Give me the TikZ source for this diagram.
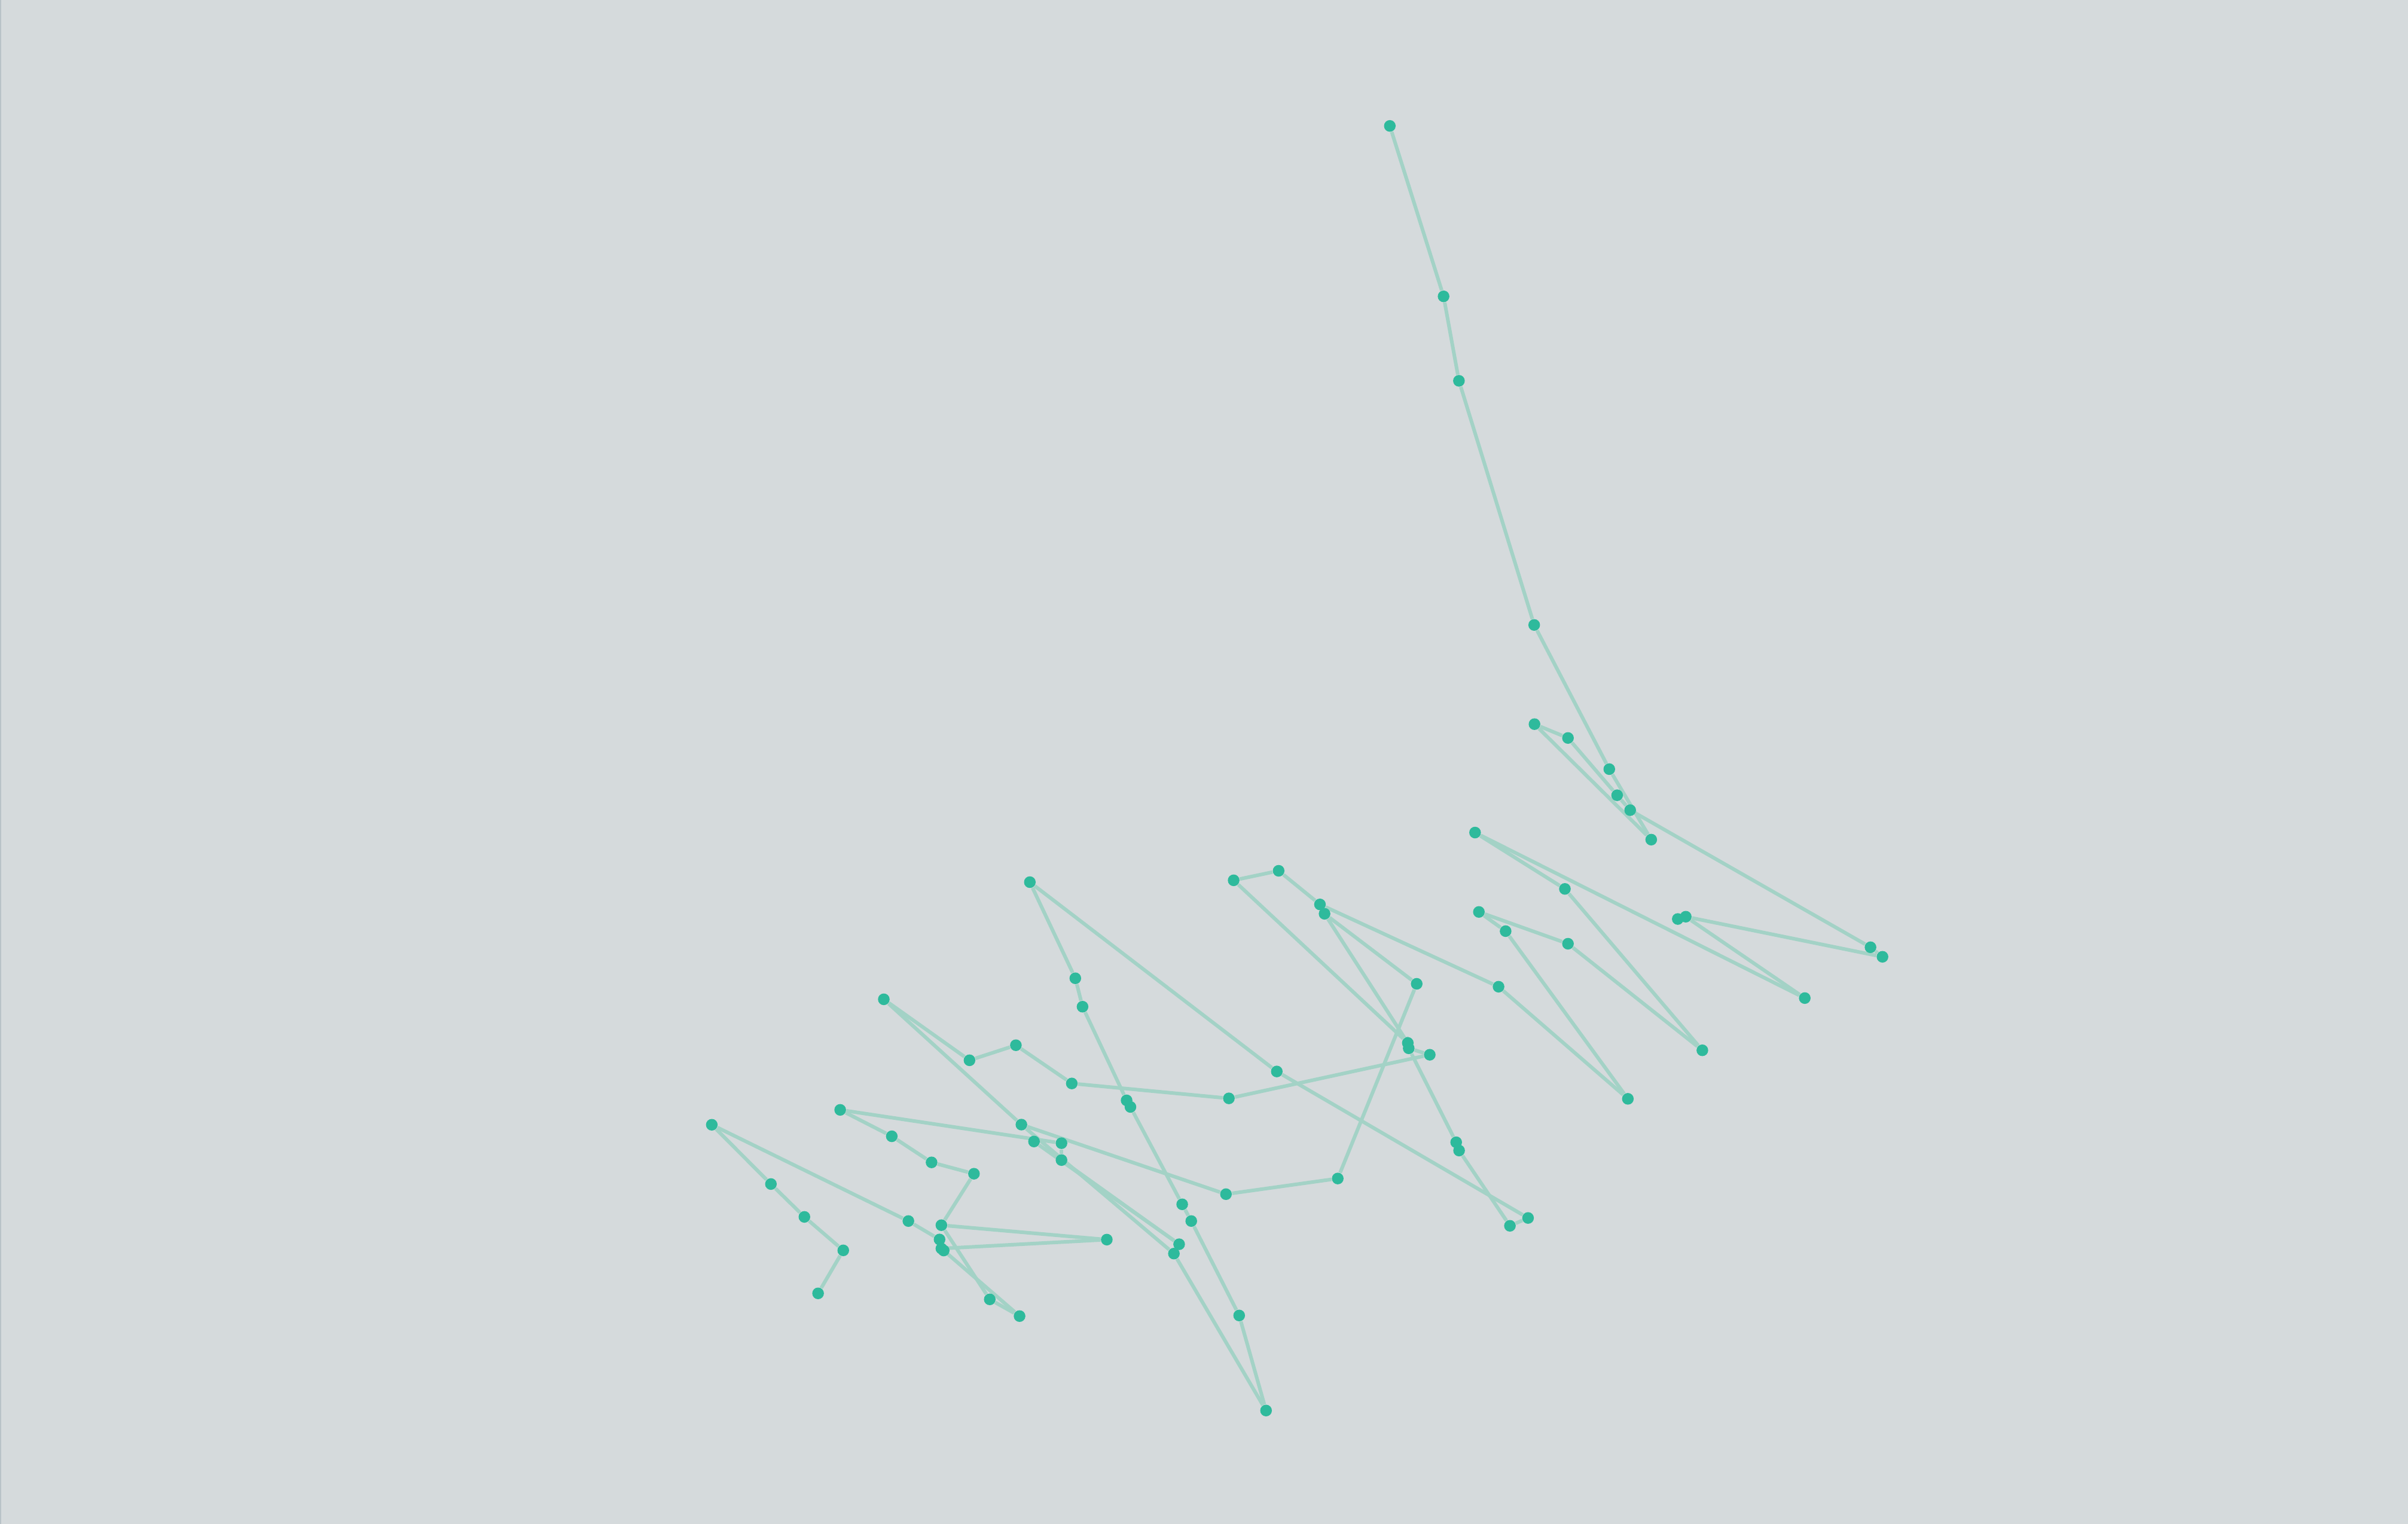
\documentclass[tikz,border=0pt]{standalone}
\usetikzlibrary{backgrounds}

\definecolor{bgcolor}{HTML}{D5DADC}
\definecolor{edgeteal}{HTML}{A3D2C6}
\definecolor{nodeteal}{HTML}{2EBA9C}
\definecolor{framegray}{HTML}{B9C3C8}

\begin{document}
\begin{tikzpicture}[
        x=0.025683cm, y=-0.025683cm,
        dot/.style={circle, fill=nodeteal, inner sep=0pt, minimum size=0.195cm},
        link/.style={draw=edgeteal, line width=1.7pt}
    ]
    \useasboundingbox (0,0) rectangle (1568,992.5);

    % Nodes
    \node (a1) [dot] at (905,82) {};
    \node (a2) [dot] at (940,193) {};
    \node (a3) [dot] at (950,248) {};
    \node (a4) [dot] at (999,407) {};
    \node (b1) [dot] at (999.2,471.6) {};
    \node (b2) [dot] at (1021,480.6) {};
    \node (b3) [dot] at (1047.9,500.9) {};
    \node (b4) [dot] at (1053,517.9) {};
    \node (b5) [dot] at (1061.5,527.6) {};
    \node (b6) [dot] at (1075.2,546.8) {};
    \node (c1) [dot] at (960.5,542.2) {};
    \node (c2) [dot] at (1019,578.9) {};
    \node (c3) [dot] at (963,593.9) {};
    \node (c4) [dot] at (980.4,606.4) {};
    \node (c5) [dot] at (1021,614.6) {};
    \node (c6) [dot] at (975.8,642.6) {};
    \node (c7) [dot] at (1060,715.6) {};
    \node (c8) [dot] at (1108.5,684) {};
    \node (c9) [dot] at (1175.2,650) {};
    \node (c10) [dot] at (1092.5,598.5) {};
    \node (c11) [dot] at (1097.7,597) {};
    \node (c12) [dot] at (1218,616.9) {};
    \node (c13) [dot] at (1225.8,623.1) {};
    \node (d1) [dot] at (803.3,573.3) {};
    \node (d2) [dot] at (832.6,567.1) {};
    \node (d3) [dot] at (859.5,589) {};
    \node (d4) [dot] at (862.5,595.1) {};
    \node (d5) [dot] at (922.5,640.7) {};
    \node (d6) [dot] at (916.7,679.2) {};
    \node (d7) [dot] at (917.3,682.7) {};
    \node (d8) [dot] at (931,686.9) {};
    \node (d9) [dot] at (831.4,697.8) {};
    \node (d10) [dot] at (800.2,715.3) {};
    \node (d11) [dot] at (871.1,767.5) {};
    \node (d12) [dot] at (798.3,777.7) {};
    \node (d13) [dot] at (948.2,743.9) {};
    \node (d14) [dot] at (950.1,749.3) {};
    \node (d15) [dot] at (983.2,798.3) {};
    \node (d16) [dot] at (995,793.2) {};
    \node (e1) [dot] at (670.6,574.5) {};
    \node (e2) [dot] at (700.2,637.1) {};
    \node (e3) [dot] at (704.9,655.6) {};
    \node (e4) [dot] at (575.5,650.8) {};
    \node (e5) [dot] at (631.3,690.5) {};
    \node (e6) [dot] at (661.5,680.7) {};
    \node (e7) [dot] at (697.9,705.6) {};
    \node (e8) [dot] at (733.6,716.6) {};
    \node (e9) [dot] at (736.1,720.9) {};
    \node (e10) [dot] at (547.1,722.8) {};
    \node (e11) [dot] at (580.7,740) {};
    \node (e12) [dot] at (606.6,757) {};
    \node (e13) [dot] at (634.2,764.4) {};
    \node (e14) [dot] at (665.1,732.4) {};
    \node (e15) [dot] at (673.3,743.4) {};
    \node (e16) [dot] at (691.2,744.5) {};
    \node (e17) [dot] at (691.2,755.5) {};
    \node (e18) [dot] at (769.8,784.3) {};
    \node (e19) [dot] at (775.7,795.2) {};
    \node (e20) [dot] at (591.5,795.2) {};
    \node (e21) [dot] at (613,797.9) {};
    \node (e22) [dot] at (611.8,807.2) {};
    \node (e23) [dot] at (720.7,807.3) {};
    \node (e24) [dot] at (767.8,810.3) {};
    \node (e25) [dot] at (764.4,816.4) {};
    \node (e26) [dot] at (613,813.1) {};
    \node (e27) [dot] at (614.5,814.4) {};
    \node (f1) [dot] at (463.5,732.5) {};
    \node (f2) [dot] at (502,771.1) {};
    \node (f3) [dot] at (523.8,792.5) {};
    \node (f4) [dot] at (549.1,814.3) {};
    \node (f5) [dot] at (532.7,842.3) {};
    \node (f6) [dot] at (644.5,846.2) {};
    \node (f7) [dot] at (663.9,857.1) {};
    \node (g1) [dot] at (824.4,918.6) {};
    \node (g2) [dot] at (806.9,856.7) {};

    \begin{pgfonlayer}{background}
    \fill [bgcolor] (0,0) rectangle (1568,992.5);
    \draw [framegray, line width=0.45pt] (0.3,0) -- (0.3,992.5);

    % Edges
    \draw [link] (a1) -- (a2);
    \draw [link] (a2) -- (a3);
    \draw [link] (a3) -- (a4);
    \draw [link] (a4) -- (b3);
    \draw [link] (b3) -- (b6);
    \draw [link] (b6) -- (b1);
    \draw [link] (b1) -- (b2);
    \draw [link] (b2) -- (b4);
    \draw [link] (b4) -- (b5);
    \draw [link] (b5) -- (c12);
    \draw [link] (c12) -- (c13);
    \draw [link] (c13) -- (c11);
    \draw [link] (c11) -- (c10);
    \draw [link] (c11) -- (c9);
    \draw [link] (c9) -- (c1);
    \draw [link] (c1) -- (c2);
    \draw [link] (c2) -- (c8);
    \draw [link] (c8) -- (c5);
    \draw [link] (c5) -- (c3);
    \draw [link] (c3) -- (c4);
    \draw [link] (c4) -- (c7);
    \draw [link] (c7) -- (c6);
    \draw [link] (c6) -- (d3);
    \draw [link] (d3) -- (d2);
    \draw [link] (d2) -- (d1);
    \draw [link] (d1) -- (d6);
    \draw [link] (d3) -- (d4);
    \draw [link] (d4) -- (d5);
    \draw [link] (d4) -- (d6);
    \draw [link] (d6) -- (d7);
    \draw [link] (d7) -- (d8);
    \draw [link] (d7) -- (d13);
    \draw [link] (d13) -- (d14);
    \draw [link] (d14) -- (d15);
    \draw [link] (d15) -- (d16);
    \draw [link] (d16) -- (d9);
    \draw [link] (d9) -- (e1);
    \draw [link] (e1) -- (e2);
    \draw [link] (e2) -- (e3);
    \draw [link] (e3) -- (e8);
    \draw [link] (e8) -- (e9);
    \draw [link] (e9) -- (e18);
    \draw [link] (e18) -- (e19);
    \draw [link] (e19) -- (g2);
    \draw [link] (g2) -- (g1);
    \draw [link] (g1) -- (e25);
    \draw [link] (e25) -- (e24);
    \draw [link] (e24) -- (e17);
    \draw [link] (e24) -- (e15);
    \draw [link] (e25) -- (e14);
    \draw [link] (e14) -- (e4);
    \draw [link] (e14) -- (d12);
    \draw [link] (d12) -- (d11);
    \draw [link] (d11) -- (d5);
    \draw [link] (d8) -- (d10);
    \draw [link] (d10) -- (e7);
    \draw [link] (e7) -- (e6);
    \draw [link] (e6) -- (e5);
    \draw [link] (e5) -- (e4);
    \draw [link] (e17) -- (e16);
    \draw [link] (e16) -- (e10);
    \draw [link] (e10) -- (e11);
    \draw [link] (e11) -- (e12);
    \draw [link] (e12) -- (e13);
    \draw [link] (e13) -- (e21);
    \draw [link] (e21) -- (e23);
    \draw [link] (e21) -- (f6);
    \draw [link] (f6) -- (f7);
    \draw [link] (f7) -- (e27);
    \draw [link] (e27) -- (e26);
    \draw [link] (e26) -- (e23);
    \draw [link] (e26) -- (e22);
    \draw [link] (e22) -- (e20);
    \draw [link] (e20) -- (f1);
    \draw [link] (f1) -- (f2);
    \draw [link] (f2) -- (f3);
    \draw [link] (f3) -- (f4);
    \draw [link] (f4) -- (f5);
    \end{pgfonlayer}

\end{tikzpicture}
\end{document}
